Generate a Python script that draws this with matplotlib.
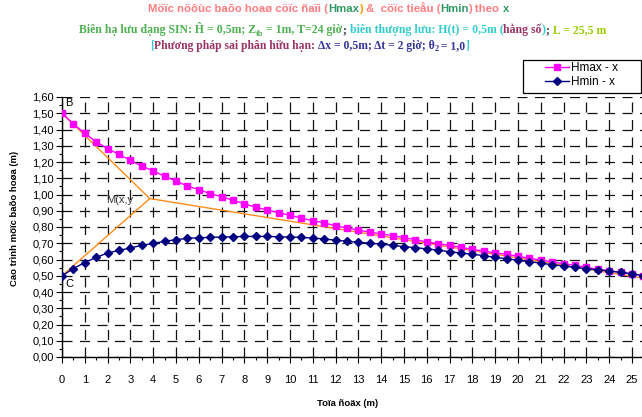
import matplotlib
matplotlib.use("Agg")
import matplotlib.pyplot as plt
from matplotlib.ticker import MultipleLocator, FuncFormatter
from matplotlib.transforms import IdentityTransform
from matplotlib.patches import Rectangle

# --- data ---
x_m = [0.0, 0.5, 1.0, 1.5, 2.0, 2.5, 3.0, 3.5, 4.0, 4.5, 5.0, 5.5, 6.0, 6.5,
       7.0, 7.5, 8.0, 8.5, 9.0, 9.5, 10.0, 10.5, 11.0, 11.5, 12.0, 12.5, 13.0,
       13.5, 14.0, 14.5, 15.0, 15.5, 16.0, 16.5, 17.0, 17.5, 18.0, 18.5, 19.0,
       19.5, 20.0, 20.5, 21.0, 21.5, 22.0, 22.5, 23.0, 23.5, 24.0, 24.5, 25.0,
       25.5]
h_max = [1.500, 1.434, 1.376, 1.325, 1.282, 1.247, 1.210, 1.175, 1.145, 1.112,
         1.083, 1.052, 1.030, 1.005, 0.987, 0.964, 0.943, 0.921, 0.905, 0.888,
         0.872, 0.855, 0.839, 0.825, 0.807, 0.794, 0.780, 0.769, 0.757, 0.747,
         0.734, 0.722, 0.708, 0.697, 0.687, 0.675, 0.662, 0.652, 0.640, 0.632,
         0.620, 0.607, 0.597, 0.585, 0.574, 0.564, 0.552, 0.540, 0.531, 0.521,
         0.511, 0.500]
h_min = [0.500, 0.544, 0.581, 0.613, 0.640, 0.656, 0.671, 0.687, 0.699, 0.712,
         0.722, 0.730, 0.734, 0.736, 0.738, 0.740, 0.742, 0.742, 0.742, 0.740,
         0.738, 0.736, 0.732, 0.726, 0.719, 0.712, 0.706, 0.700, 0.695, 0.687,
         0.679, 0.673, 0.665, 0.657, 0.648, 0.640, 0.632, 0.624, 0.613, 0.605,
         0.595, 0.587, 0.577, 0.568, 0.560, 0.552, 0.543, 0.537, 0.529, 0.521,
         0.513, 0.500]

# duong dac trung B - M - C va M - cuoi
char_x = [0.0, 3.85, 0.0]
char_y = [1.50, 0.975, 0.50]
tail_x = [3.85, 25.5]
tail_y = [0.975, 0.485]

SALMON = "#ff7c80"
GREEN = "#339966"
LGREEN = "#4cb050"
CYAN = "#33cccc"
PURPLE = "#993366"
NAVYP = "#333399"
YGREEN = "#99cc00"


def rich_line(fig, x0, y0, pieces, size, family, weight="bold"):
    """ve mot dong chu nhieu mau, toa do pixel (goc duoi trai)"""
    renderer = fig.canvas.get_renderer()
    x = x0
    for p in pieces:
        s, color = p[0], p[1]
        sz = size * p[2] if len(p) > 2 else size
        dy = p[3] if len(p) > 3 else 0
        t = fig.text(x, y0 + dy, s, color=color, fontsize=sz, family=family,
                     fontweight=weight, va="baseline", ha="left",
                     transform=IdentityTransform())
        x += t.get_window_extent(renderer).width


fig = plt.figure(figsize=(6.42, 4.17), dpi=100)
W, H = 642, 417
ax = fig.add_axes([62 / W, 60 / H, (643.4 - 62) / W, 260 / H])

ax.plot(char_x, char_y, color="#ff8c1a", lw=1.0, zorder=2)
ax.plot(tail_x, tail_y, color="#ff8c1a", lw=1.0, zorder=2)
ax.plot(x_m, h_max, color="#ff00ff", marker="s", markersize=5, lw=1.0,
        label="Hmax - x", zorder=3)
ax.plot(x_m, h_min, color="#000080", marker="D", markersize=3.6, lw=1.0,
        label="Hmin - x", zorder=3)

ax.set_xlim(0, 25.5)
ax.set_ylim(0, 1.6)
ax.xaxis.set_major_locator(MultipleLocator(1))
ax.xaxis.set_minor_locator(MultipleLocator(0.5))
ax.yaxis.set_major_locator(MultipleLocator(0.1))
ax.yaxis.set_minor_locator(MultipleLocator(0.05))
ax.yaxis.set_major_formatter(FuncFormatter(lambda v, p: f"{v:.2f}".replace(".", ",")))
ax.tick_params(axis="both", which="major", labelsize=8, length=4, width=0.8,
               direction="out", colors="black")
ax.tick_params(axis="both", which="minor", length=2, width=0.8, direction="out")
ax.tick_params(axis="x", pad=9)
ax.tick_params(axis="y", pad=2)
for lbl in ax.get_xticklabels() + ax.get_yticklabels():
    lbl.set_family("Liberation Sans")
for sp in ["top", "right"]:
    ax.spines[sp].set_visible(False)
for sp in ["left", "bottom"]:
    ax.spines[sp].set_linewidth(1.0)
ax.grid(True, which="major", color="#111111", lw=0.9, linestyle=(0, (8, 6)))
ax.set_axisbelow(True)

ax.text(0.12, 1.545, "B", fontsize=8, family="Liberation Sans")
ax.text(0.15, 0.43, "C", fontsize=8, family="Liberation Sans")
ax.text(1.95, 0.95, "M(x,y", fontsize=8, family="Liberation Sans", color="#333333")

fig.text(15 / W, 1 - 218 / H, "Cao trình möïc baõo hoøa (m)", rotation=90,
         fontsize=6.8, fontweight="bold", family="Liberation Sans",
         ha="center", va="center")
fig.text(348 / W, 1 - 404 / H, "Toïa ñoäx (m)", fontsize=6.8, fontweight="bold",
         family="Liberation Sans", ha="center", va="center")

# khung chu giai
fig.patches.append(Rectangle((523 / W, 1 - 93 / H), 118 / W, 33 / H,
                             transform=fig.transFigure, fill=True,
                             facecolor="white", edgecolor="black", lw=0.9))
h1, l1 = ax.get_legend_handles_labels()
fig.legend(h1, l1, loc="upper left", bbox_to_anchor=(545 / W, 1 - 62 / H),
           prop={"family": "Liberation Sans", "size": 8.5}, frameon=False,
           borderpad=0, labelspacing=0.2, handlelength=2.0,
           handletextpad=0.2, borderaxespad=0)

sans = "Liberation Sans"
serif = "Liberation Serif"
rich_line(fig, 148, H - 12, [
    ("Möïc nöôùc baõo hoaø cöïc ñaïi (", SALMON),
    ("Hmax", GREEN), (")", "#ff9900"), (" &  cöïc tieåu (", SALMON),
    ("Hmin", GREEN), (") theo ", SALMON), ("x", GREEN)], 8.2, sans)
rich_line(fig, 79, H - 33, [
    ("Biên hạ lưu dạng SIN: Ĥ = 0,5m; Z", LGREEN), ("tb", LGREEN, 0.7, -2.5),
    (" = 1m, T=24 giờ", LGREEN), ("; ", "#333333"),
    ("biên thượng lưu: H(t) = 0,5m (", CYAN), ("hằng số", PURPLE),
    (")", CYAN), ("; ", "#333333"), ("L = 25,5 m", YGREEN)], 8.5, serif)
rich_line(fig, 150, H - 49, [
    ("[", CYAN), ("Phương pháp sai phân hữu hạn: ", PURPLE),
    ("Δx = 0,5m; Δt = 2 giờ; θ", NAVYP), ("2", NAVYP, 0.7, -2),
    (" = 1,0", NAVYP), ("]", CYAN)], 8.4, serif)

fig.savefig("out.png", dpi=100)
